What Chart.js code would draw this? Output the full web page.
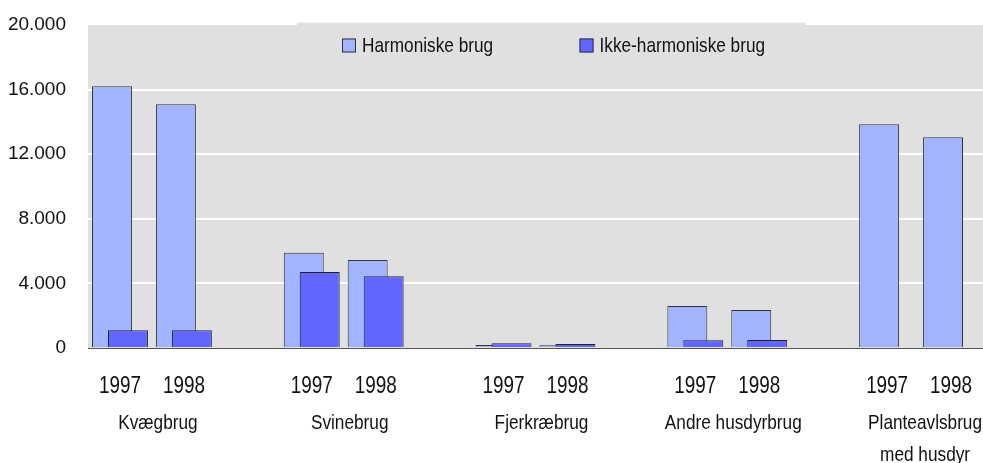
<!DOCTYPE html>
<html>
<head>
<meta charset="utf-8">
<script src="https://cdn.jsdelivr.net/npm/chart.js@4/dist/chart.umd.min.js"></script>
<style>
  html, body { margin: 0; padding: 0; background: #fff; }
  #wrap { width: 983px; height: 463px; position: relative; }
</style>
</head>
<body>
<div id="wrap"><canvas id="brugChart"></canvas></div>
<script>
// two bars per group, then an empty slot between groups
const years = ['1997', '1998', '', '1997', '1998', '', '1997', '1998', '', '1997', '1998', '', '1997', '1998'];
const groups = ['Kvægbrug', 'Svinebrug', 'Fjerkræbrug', 'Andre husdyrbrug', ['Planteavlsbrug', 'med husdyr']];
const harmoniske = [16200, 15100, null, 5900, 5450, null, 180, 170, null, 2600, 2350, null, 13850, 13050];
const ikkeHarmoniske = [1100, 1100, null, 4700, 4450, null, 290, 250, null, 480, 500, null, null, null];
const yTicks = [0, 4000, 8000, 12000, 16000, 20000];

const sans = "'Liberation Sans', Arial, sans-serif";
const colLight = '#A3B4FF';
const colDark = '#6066FF';
const colBorder = '#333333';
const plotGrey = '#E0E0E0';

// Arial Narrow look-alike: regular sans squeezed horizontally
function narrowText(ctx, text, x, y, align) {
    ctx.save();
    ctx.translate(x, y);
    ctx.scale(0.82, 1);
    ctx.textAlign = align;
    ctx.fillText(text, 0, 0);
    ctx.restore();
}

// grey plot background + grey legend box that pokes above the plot
const backdrop = {
    id: 'backdrop',
    beforeDraw(chart) {
        const { ctx, chartArea } = chart;
        ctx.save();
        ctx.fillStyle = plotGrey;
        ctx.fillRect(chartArea.left, chartArea.top, chartArea.right - chartArea.left, chartArea.bottom - chartArea.top);
        ctx.fillRect(297, 22.7, 508.5, 40);
        ctx.restore();
    }
};

// dark bars sit on top of the light ones (chart.js would draw dataset 0 last)
const overlapOrder = {
    id: 'overlapOrder',
    beforeDatasetDraw(chart, args) {
        if (args.index === 1) return false;
    },
    afterDatasetDraw(chart, args) {
        if (args.index === 0) chart.getDatasetMeta(1).controller.draw();
    }
};

const legendAndLabels = {
    id: 'legendAndLabels',
    afterDraw(chart) {
        const { ctx } = chart;
        const x = chart.scales.x;
        ctx.save();
        ctx.textBaseline = 'middle';
        ctx.fillStyle = '#111';
        // legend
        ctx.font = '21px ' + sans;
        const items = [
            { label: chart.data.datasets[0].label, color: colLight, bx: 342 },
            { label: chart.data.datasets[1].label, color: colDark, bx: 579.5 }
        ];
        items.forEach(it => {
            ctx.fillStyle = it.color;
            ctx.fillRect(it.bx, 38.5, 14, 14);
            ctx.strokeStyle = colBorder;
            ctx.lineWidth = 1;
            ctx.strokeRect(it.bx + 0.5, 38.5 + 0.5, 13, 13);
            ctx.fillStyle = '#111';
            narrowText(ctx, it.label, it.bx + 20, 46, 'left');
        });
        // year labels at the category ticks
        ctx.font = '23px ' + sans;
        x.ticks.forEach((t, i) => {
            const lbl = x.getLabelForValue(t.value);
            if (lbl) narrowText(ctx, lbl, x.getPixelForValue(i), 387, 'center');
        });
        // group names under the year labels
        ctx.font = '21px ' + sans;
        groups.forEach((g, i) => {
            const cx = (x.getPixelForValue(i * 3) + x.getPixelForValue(i * 3 + 1)) / 2 + 6;
            const lines = Array.isArray(g) ? g : [g];
            lines.forEach((ln, j) => narrowText(ctx, ln, cx, 423 + j * 32, 'center'));
        });
        ctx.restore();
    }
};

const ctx = document.getElementById('brugChart').getContext('2d');
const brugChart = new Chart(ctx, {
    type: 'bar',
    data: {
        labels: years,
        datasets: [{
            label: 'Harmoniske brug',
            data: harmoniske,
            backgroundColor: colLight,
            borderColor: colBorder,
            borderWidth: 1
        }, {
            label: 'Ikke-harmoniske brug',
            data: ikkeHarmoniske,
            backgroundColor: colDark,
            borderColor: '#222',
            borderWidth: 1
        }]
    },
    options: {
        responsive: true,
        maintainAspectRatio: false,
        animation: false,
        // bars overlap: narrow sub-slots, bars wider than them
        categoryPercentage: 0.5,
        barPercentage: 2.5,
        layout: { padding: { top: 25, right: 0, left: 0, bottom: 0 } },
        plugins: {
            legend: { display: false },
            tooltip: { enabled: false }
        },
        scales: {
            x: {
                grid: { display: false, drawTicks: false },
                border: { display: true, color: '#555', width: 1 },
                ticks: { display: false, autoSkip: false },
                afterFit(scale) {
                    scale.height = 115;
                    scale.paddingLeft = 0;
                    scale.paddingRight = 0;
                }
            },
            y: {
                min: 0,
                max: 20000,
                afterBuildTicks(scale) { scale.ticks = yTicks.map(v => ({ value: v })); },
                grid: {
                    drawTicks: false,
                    lineWidth: 2,
                    color: c => (c.tick.value === 0 || c.tick.value === 20000) ? 'rgba(0,0,0,0)' : '#ffffff'
                },
                border: { display: false },
                ticks: {
                    color: '#111',
                    font: { family: sans, size: 19 },
                    padding: 22,
                    callback: v => v.toLocaleString('da-DK')
                },
                afterFit(scale) {
                    scale.width = 88;
                    scale.paddingTop = 0;
                    scale.paddingBottom = 0;
                }
            }
        }
    },
    plugins: [backdrop, overlapOrder, legendAndLabels]
});
</script>
</body>
</html>
